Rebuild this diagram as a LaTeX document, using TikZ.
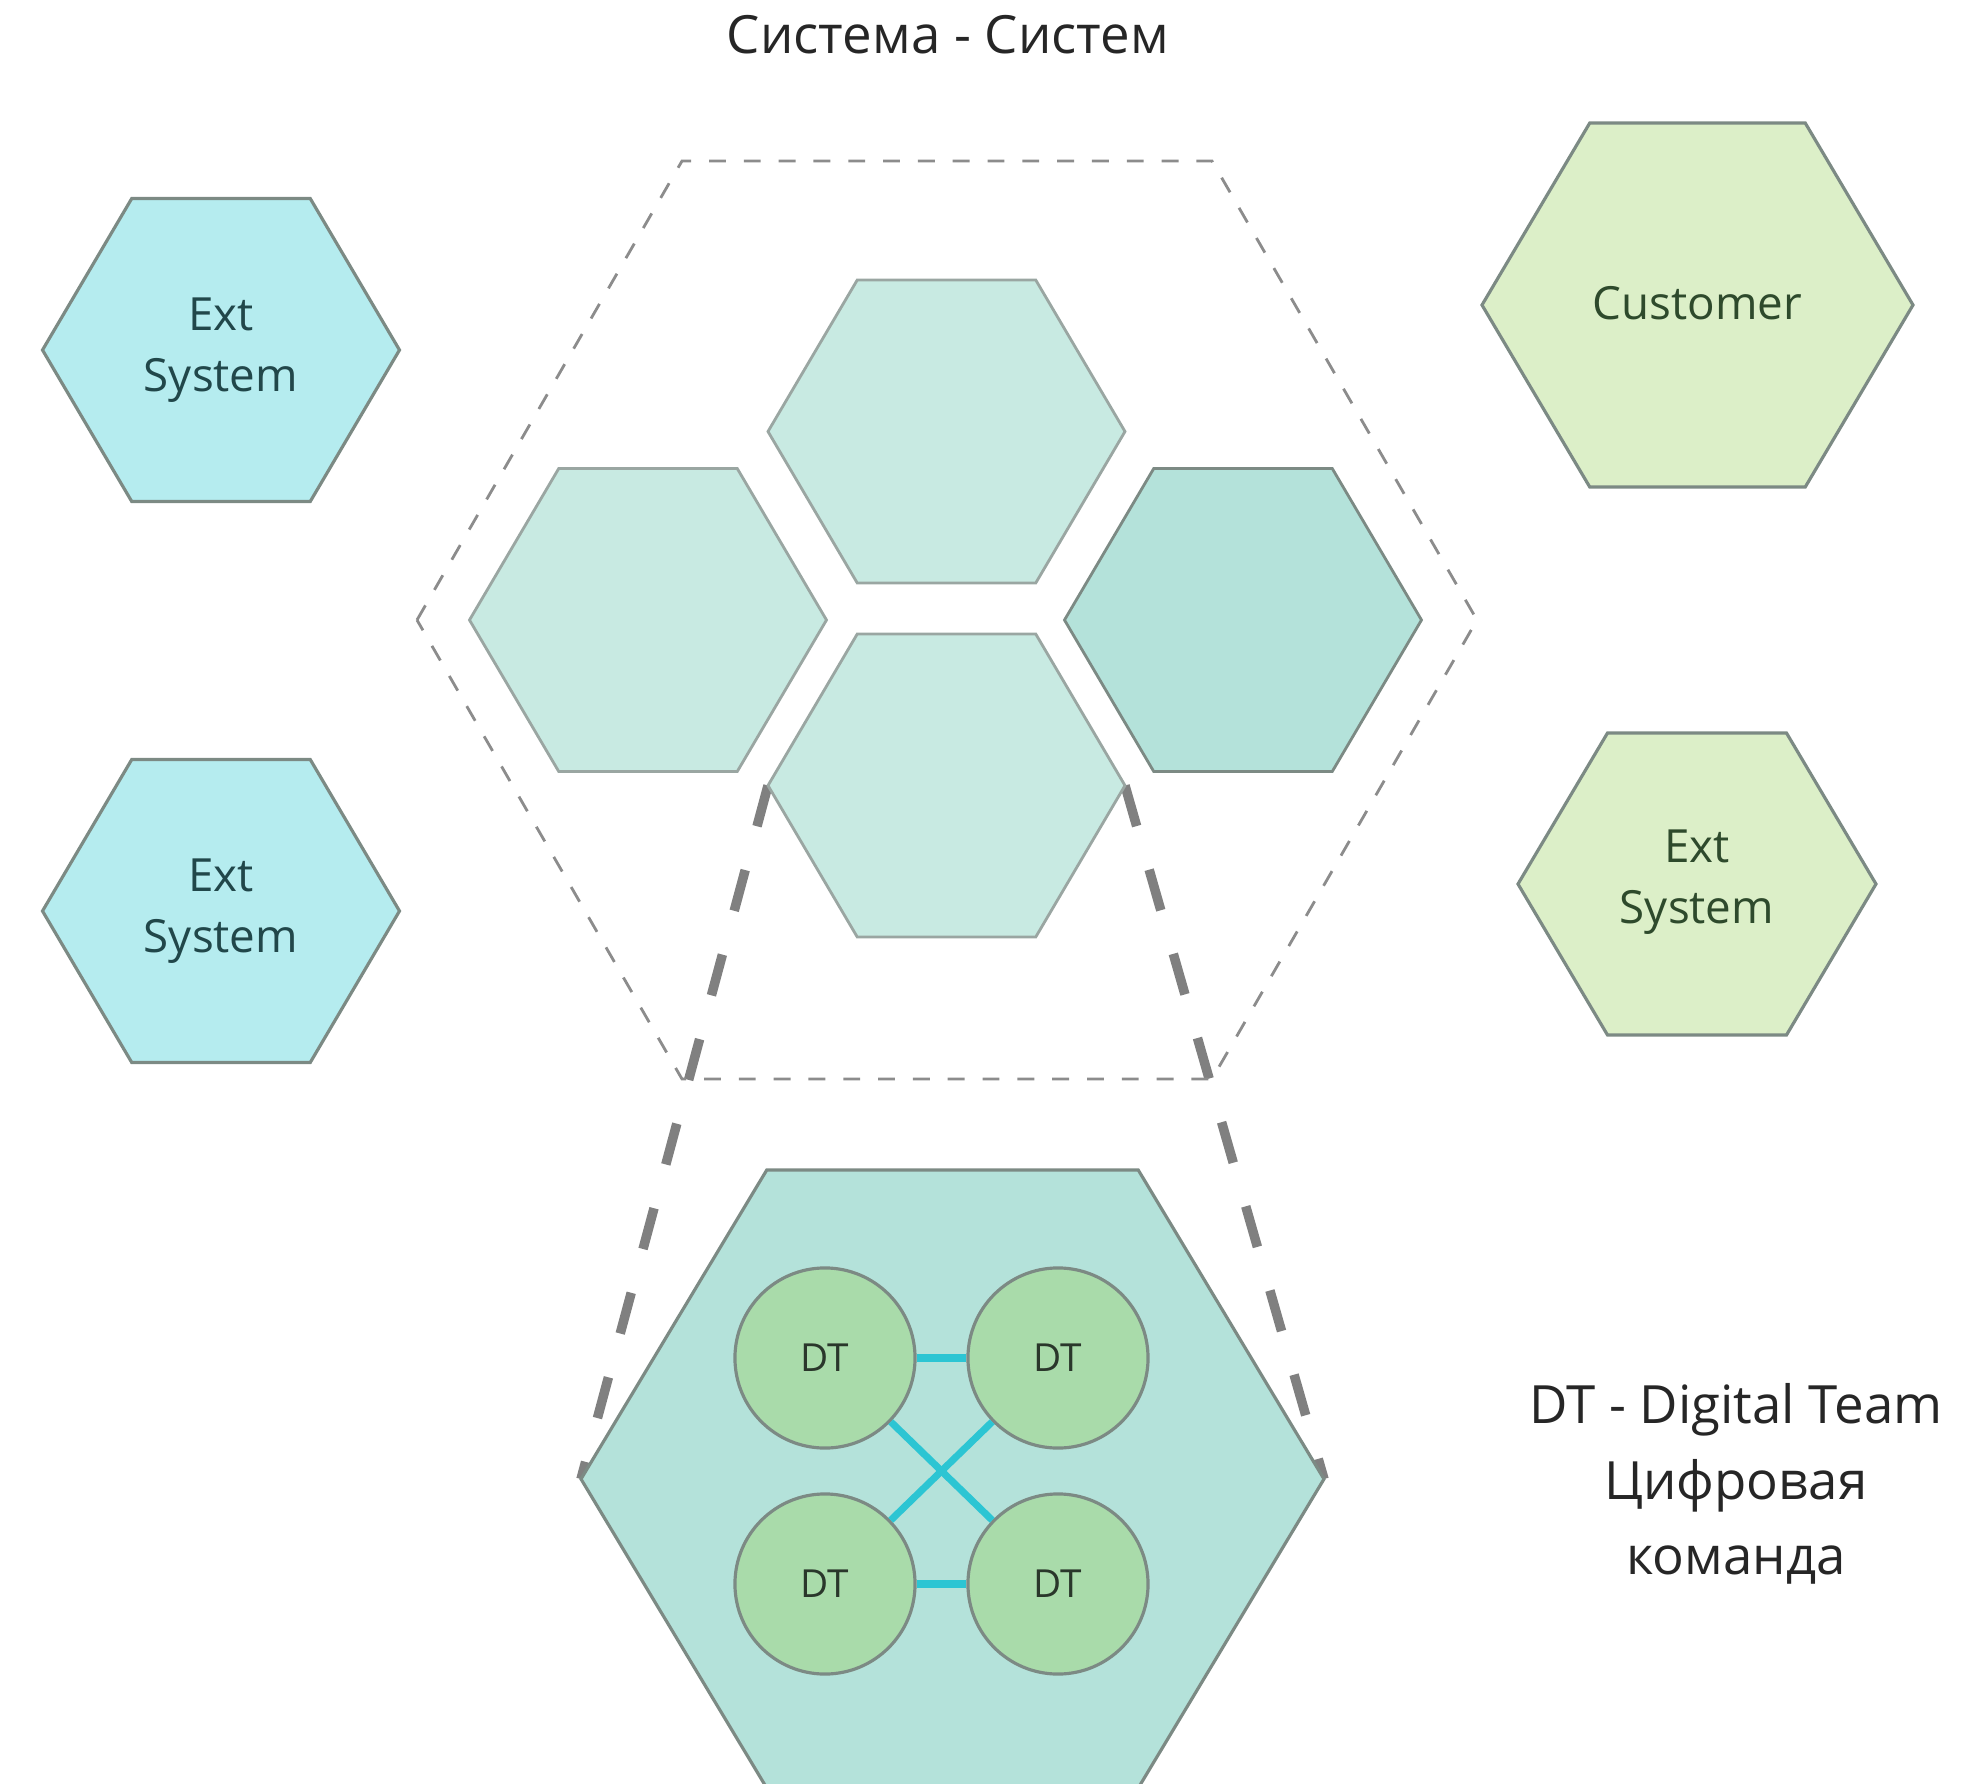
\documentclass[tikz,border=0pt]{standalone}
\usepackage{fontspec}
\setmainfont{Open Sans}
\usetikzlibrary{backgrounds}

\definecolor{extblue}{HTML}{B5ECEF}
\definecolor{custgreen}{HTML}{DCEFC8}
\definecolor{cellteal}{HTML}{C8EAE2}
\definecolor{celldark}{HTML}{B4E2DA}
\definecolor{dtgreen}{HTML}{A9DBAA}
\definecolor{hexline}{HTML}{7C8A84}
\definecolor{cellline}{HTML}{9AA6A2}
\definecolor{linkcyan}{HTML}{2CC5D3}
\definecolor{zoomgray}{HTML}{808080}
\definecolor{exttext}{HTML}{21474A}
\definecolor{custtext}{HTML}{2E4A2C}

\begin{document}
\begin{tikzpicture}[x=0.01cm,y=-0.01cm]
  \tikzset{
    hex cell/.pic={
      \tikzset{%
        /hexcell/.cd,
        #1
      }
      \draw [pic actions]
      (-\hexw,0) coordinate (w-\hexlabel) -- (-\hexw/2,-\hexh) -- (\hexw/2,-\hexh) -- (\hexw,0) coordinate (e-\hexlabel) -- (\hexw/2,\hexh) -- (-\hexw/2,\hexh) -- cycle;
    },
    /hexcell/.search also={/tikz},
    /hexcell/.cd,
    width/.store in=\hexw,
    height/.store in=\hexh,
    label/.store in=\hexlabel,
    width=178.5,
    height=151.5,
    label=X
  }
  \tikzset{
    hex label/.style={align=center, font=\fontsize{13}{17.5}\selectfont},
    dt/.style={circle, draw=hexline, line width=0.9pt, fill=dtgreen, minimum size=1.8cm, inner sep=0pt, font=\fontsize{11}{13}\selectfont, text=black!75!dtgreen},
    dt link/.style={linkcyan, line width=2pt},
    zoom line/.style={zoomgray, line width=2.7pt, dash pattern=on 12pt off 12.9pt},
    system border/.style={draw=black!45, line width=0.8pt, dash pattern=on 4.8pt off 5.1pt}
  }

  \useasboundingbox (0,0) rectangle (1968,1784);

  \node [font=\fontsize{15}{20}\selectfont, text=black!85] (title) at (948,35) {Система - Систем};

  % external systems
  \pic [fill=extblue, draw=hexline, line width=0.9pt] at (221,350) {hex cell={label=extA}};
  \node [hex label, text=exttext] (extA) at (221,350) {Ext\\System};

  \pic [fill=extblue, draw=hexline, line width=0.9pt] at (221,911) {hex cell={label=extB}};
  \node [hex label, text=exttext] (extB) at (221,911) {Ext\\System};

  \pic [fill=custgreen, draw=hexline, line width=0.9pt] at (1697.5,305) {hex cell={label=cust, width=215.5, height=182}};
  \node [hex label, text=custtext] (cust) at (1697.5,303) {Customer};

  \pic [fill=custgreen, draw=hexline, line width=0.9pt] at (1697,884) {hex cell={label=extC, width=179, height=151}};
  \node [hex label, text=custtext] (extC) at (1697,882) {Ext\\System};

  % system of systems
  \pic [system border] at (947,620) {hex cell={label=sys, width=530, height=459}};

  \foreach \name/\x/\y in {mid1/946.5/431.5, mid2/648/620, mid4/946.5/785.5} {
    \pic [fill=cellteal, draw=cellline, line width=0.8pt] at (\x,\y) {hex cell={label=\name}};
  }
  \pic [fill=celldark, draw=hexline, line width=0.8pt] at (1243,620) {hex cell={label=mid3}};

  % zoomed cell
  \pic [fill=celldark, draw=hexline, line width=0.9pt] at (952.5,1479) {hex cell={label=team, width=371.5, height=309}};

  \begin{scope}[on background layer]
    \draw [zoom line] (w-mid4) -- (w-team);
    \draw [zoom line] (e-mid4) -- (e-team);
  \end{scope}

  \node [dt] (dt1) at (825,1358) {DT};
  \node [dt] (dt2) at (1058,1358) {DT};
  \node [dt] (dt3) at (825,1584) {DT};
  \node [dt] (dt4) at (1058,1584) {DT};

  \foreach \a/\b in {dt1/dt2, dt3/dt4, dt1/dt4, dt2/dt3} {
    \draw [dt link] (\a) -- (\b);
  }

  \node [align=center, font=\fontsize{15}{21.5}\selectfont, text=black!85] (legend) at (1736,1484) {DT - Digital Team\\Цифровая\\команда};
\end{tikzpicture}
\end{document}
